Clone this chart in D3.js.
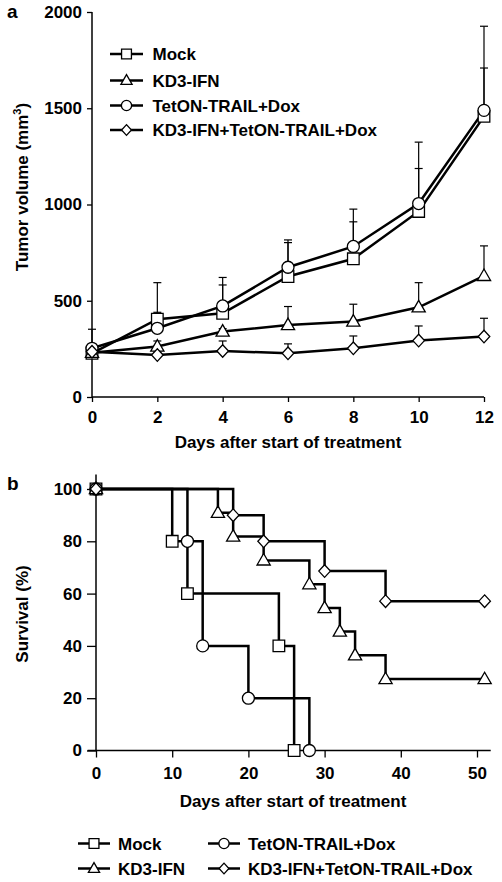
<!DOCTYPE html>
<html><head><meta charset="utf-8">
<script src="https://cdn.jsdelivr.net/npm/d3@7"></script>
<style>
html,body{margin:0;padding:0;background:#fff;}
text{font-family:"Liberation Sans",Arial,sans-serif;font-weight:bold;fill:#000;}
</style></head>
<body>
<svg id="c" width="502" height="882"></svg>
<script>
// ---------- data: panel a (tumor volume) ----------
const days = [0, 2, 4, 6, 8, 10, 12];
const mockVol   = [227, 404, 435, 626, 718, 964, 1458];
const mockErr   = [15, 36, 147, 176, 192, 223, 251];
const kd3Vol    = [230, 262, 340, 374, 392, 466, 629];
const kd3Err    = [10, 29, 15, 96, 90, 128, 156];
const tetonVol  = [253, 357, 473, 674, 782, 1005, 1489];
const tetonErr  = [99, 237, 148, 142, 194, 319, 437];
const comboVol  = [235, 218, 239, 227, 253, 293, 314];
const comboErr  = [10, 15, 52, 49, 64, 76, 95];
const volTicks  = [0, 500, 1000, 1500, 2000];
const dayTicksA = [0, 2, 4, 6, 8, 10, 12];

// ---------- data: panel b (survival) ----------
const mockSurvDays  = [0, 10, 12, 24, 26];
const mockSurv      = [100, 80, 60, 40, 0];
const tetonSurvDays = [0, 12, 14, 20, 28];
const tetonSurv     = [100, 80, 40, 20, 0];
const kd3SurvDays   = [0, 16, 18, 22, 28, 30, 32, 34, 38, 51];
const kd3Surv       = [100, 90.9, 81.8, 72.7, 63.6, 54.5, 45.5, 36.4, 27.3, 27.3];
const comboSurvDays = [0, 18, 22, 30, 38, 51];
const comboSurv     = [100, 90, 80, 68.6, 57.1, 57.1];
const survTicks  = [0, 20, 40, 60, 80, 100];
const dayTicksB  = [0, 10, 20, 30, 40, 50];

const seriesNames = ["Mock", "KD3-IFN", "TetON-TRAIL+Dox", "KD3-IFN+TetON-TRAIL+Dox"];
const seriesShapes = ["square", "triangle", "circle", "diamond"];

const svg = d3.select("#c");
const FS = 17;

function marker(g, shape, x, y, s) {
  s = s || 1;
  let p;
  if (shape === "square") {
    const h = 5.8 * s;
    p = `M${x-h},${y-h}h${2*h}v${2*h}h${-2*h}Z`;
  } else if (shape === "circle") {
    g.append("circle").attr("cx", x).attr("cy", y).attr("r", 6 * s)
      .attr("fill", "#fff").attr("stroke", "#000").attr("stroke-width", 1.3);
    return;
  } else if (shape === "triangle") {
    const w = 6.6 * s, hh = 11.5 * s;
    p = `M${x},${y - hh*0.6}L${x + w},${y + hh*0.4}L${x - w},${y + hh*0.4}Z`;
  } else {
    const w = 5.8 * s, hh = 6.3 * s;
    p = `M${x},${y-hh}L${x+w},${y}L${x},${y+hh}L${x-w},${y}Z`;
  }
  g.append("path").attr("d", p).attr("fill", "#fff").attr("stroke", "#000").attr("stroke-width", 1.3);
}

function styleAxis(g) {
  g.select(".domain").attr("stroke", "#000").attr("stroke-width", 1.5);
  g.selectAll(".tick line").attr("stroke", "#000").attr("stroke-width", 1.3);
  g.selectAll(".tick text").attr("font-size", FS).attr("font-family", "Liberation Sans, Arial, sans-serif").attr("font-weight", "bold").attr("fill", "#000");
}

// ================= Panel a =================
const xA = d3.scaleLinear().domain([0, 12]).range([92, 484]);
const yA = d3.scaleLinear().domain([0, 2000]).range([397, 12]);
const gA = svg.append("g");

const yAxisA = d3.axisLeft(yA).tickValues(volTicks).tickFormat(d3.format("d")).tickSize(5).tickPadding(5);
const gyA = gA.append("g").attr("transform", `translate(${xA(0)},0)`).call(yAxisA);
const xAxisA = d3.axisBottom(xA).tickValues(dayTicksA).tickFormat(d3.format("d")).tickSize(5).tickPadding(9);
const gxA = gA.append("g").attr("transform", `translate(0,${yA(0)})`).call(xAxisA);
styleAxis(gyA); styleAxis(gxA);
gyA.select(".domain").attr("d", `M0,${yA(2000)}V${yA(0)}`);
gxA.select(".domain").attr("d", `M${xA(0)},0H${xA(12)}`);

const volSeries = [
  {v: mockVol, e: mockErr, shape: "square"},
  {v: kd3Vol, e: kd3Err, shape: "triangle"},
  {v: tetonVol, e: tetonErr, shape: "circle"},
  {v: comboVol, e: comboErr, shape: "diamond"}
];
volSeries.forEach(s => {
  days.forEach((d, i) => {
    const x = xA(d), y0 = yA(s.v[i]), y1 = yA(s.v[i] + s.e[i]);
    gA.append("line").attr("x1", x).attr("x2", x).attr("y1", y0).attr("y2", y1).attr("stroke", "#000").attr("stroke-width", 1.2);
    gA.append("line").attr("x1", x - 4).attr("x2", x + 4).attr("y1", y1).attr("y2", y1).attr("stroke", "#000").attr("stroke-width", 1.2);
  });
});
const lineA = d3.line().x((d, i) => xA(days[i])).y(d => yA(d));
volSeries.forEach(s => {
  gA.append("path").attr("d", lineA(s.v)).attr("fill", "none").attr("stroke", "#000").attr("stroke-width", 2.5);
});
volSeries.forEach(s => {
  days.forEach((d, i) => marker(gA, s.shape, xA(d), yA(s.v[i])));
});

const legA = gA.append("g");
const legAy = [54, 80.5, 105.5, 130];
seriesNames.forEach((n, i) => {
  legA.append("line").attr("x1", 110).attr("x2", 143).attr("y1", legAy[i]).attr("y2", legAy[i]).attr("stroke", "#000").attr("stroke-width", 2.5);
  marker(legA, seriesShapes[i], 126.5, legAy[i], 0.85);
  legA.append("text").attr("x", 152.5).attr("y", legAy[i] + 6).attr("font-size", FS).text(n);
});

gA.append("text").attr("x", 288).attr("y", 448).attr("text-anchor", "middle").attr("font-size", FS).text("Days after start of treatment");
const tA = gA.append("text").attr("transform", "translate(28,187) rotate(-90)").attr("text-anchor", "middle").attr("font-size", FS);
tA.append("tspan").text("Tumor volume (mm");
tA.append("tspan").attr("dy", -7).attr("font-size", 11).text("3");
tA.append("tspan").attr("dy", 7).text(")");
gA.append("text").attr("x", 7).attr("y", 18).attr("font-size", 19).text("a");

// ================= Panel b =================
const xB = d3.scaleLinear().domain([0, 50]).range([96, 477]);
const yB = d3.scaleLinear().domain([0, 100]).range([750.5, 489]);
const gB = svg.append("g");

const yAxisB = d3.axisLeft(yB).tickValues(survTicks).tickFormat(d3.format("d")).tickSize(9).tickPadding(5);
const gyB = gB.append("g").attr("transform", `translate(${xB(0)},0)`).call(yAxisB);
const xAxisB = d3.axisBottom(xB).tickValues(dayTicksB).tickFormat(d3.format("d")).tickSize(7).tickPadding(9);
const gxB = gB.append("g").attr("transform", `translate(0,${yB(0)})`).call(xAxisB);
styleAxis(gyB); styleAxis(gxB);
gyB.select(".domain").attr("d", `M0,${yB(105.5)}V${yB(0)}`);
gxB.select(".domain").attr("d", `M${xB(-1.1)},0H${xB(51.8)}`);

const survSeries = [
  {d: mockSurvDays, v: mockSurv, shape: "square"},
  {d: tetonSurvDays, v: tetonSurv, shape: "circle"},
  {d: kd3SurvDays, v: kd3Surv, shape: "triangle"},
  {d: comboSurvDays, v: comboSurv, shape: "diamond"}
];
survSeries.forEach(s => {
  const pts = s.d.map((d, i) => [d, s.v[i]]);
  const ln = d3.line().curve(d3.curveStepAfter).x(p => xB(p[0])).y(p => yB(p[1]));
  gB.append("path").attr("d", ln(pts)).attr("fill", "none").attr("stroke", "#000").attr("stroke-width", 2.5);
});
survSeries.forEach(s => {
  s.d.forEach((d, i) => marker(gB, s.shape, xB(d), yB(s.v[i])));
});

gB.append("text").attr("x", 293).attr("y", 807).attr("text-anchor", "middle").attr("font-size", FS).text("Days after start of treatment");
gB.append("text").attr("transform", "translate(28,614) rotate(-90)").attr("text-anchor", "middle").attr("font-size", FS).text("Survival (%)");
gB.append("text").attr("x", 7).attr("y", 490).attr("font-size", 19).text("b");

const legB = gB.append("g");
const legBpos = [
  {x: 78, y: 843.5}, {x: 78, y: 868.5}, {x: 208, y: 843.5}, {x: 208, y: 868.5}
];
seriesNames.forEach((n, i) => {
  const p = legBpos[i];
  legB.append("line").attr("x1", p.x).attr("x2", p.x + 32).attr("y1", p.y).attr("y2", p.y).attr("stroke", "#000").attr("stroke-width", 2.5);
  marker(legB, seriesShapes[i], p.x + 16, p.y, 0.85);
  legB.append("text").attr("x", p.x + 40).attr("y", p.y + 6).attr("font-size", FS).text(n);
});
</script>
</body></html>
